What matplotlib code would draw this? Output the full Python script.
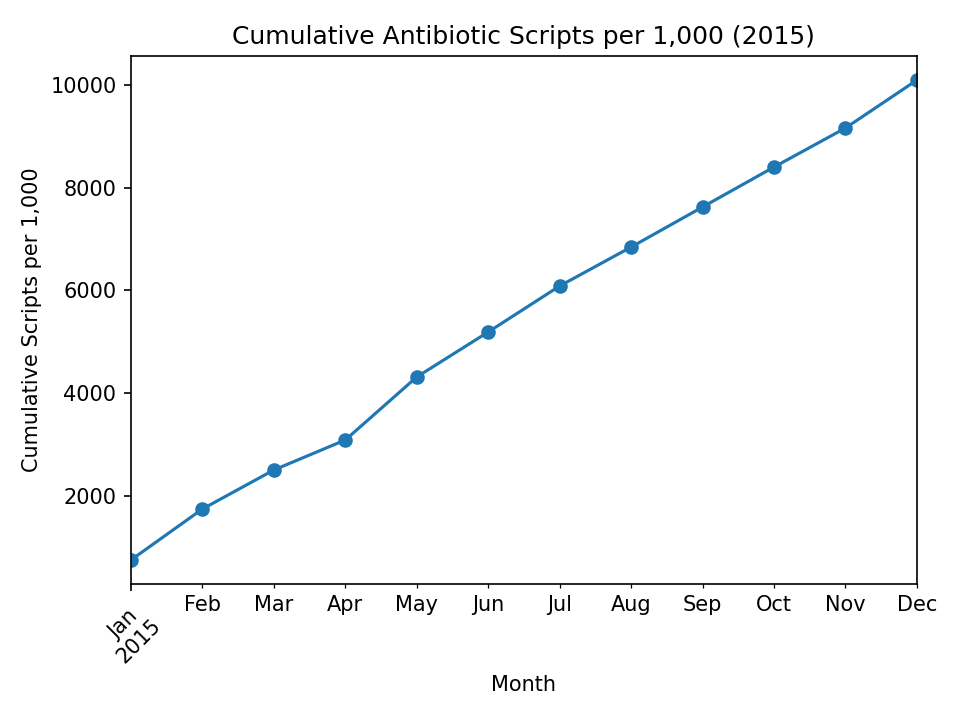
import matplotlib
matplotlib.use("Agg")
import matplotlib.pyplot as plt
import pandas as pd

months = pd.period_range("2015-01", periods=12, freq="M")
cumulative_scripts = [755, 1747, 2506, 3090, 4316, 5191, 6086, 6844, 7623, 8401, 9160, 10093]

s = pd.Series(cumulative_scripts, index=months)

fig, ax = plt.subplots(figsize=(6.4, 4.8), dpi=150)
s.plot(ax=ax, marker="o", rot=45)
ax.set_title("Cumulative Antibiotic Scripts per 1,000 (2015)")
ax.set_xlabel("Month")
ax.set_ylabel("Cumulative Scripts per 1,000")

# only the major (year) label is rotated, month labels stay flat
for lbl in ax.get_xticklabels(minor=True):
    lbl.set_rotation(0)
    lbl.set_ha("center")

fig.subplots_adjust(left=0.1365, right=0.955, top=0.922, bottom=0.189)
fig.savefig("out.png")
